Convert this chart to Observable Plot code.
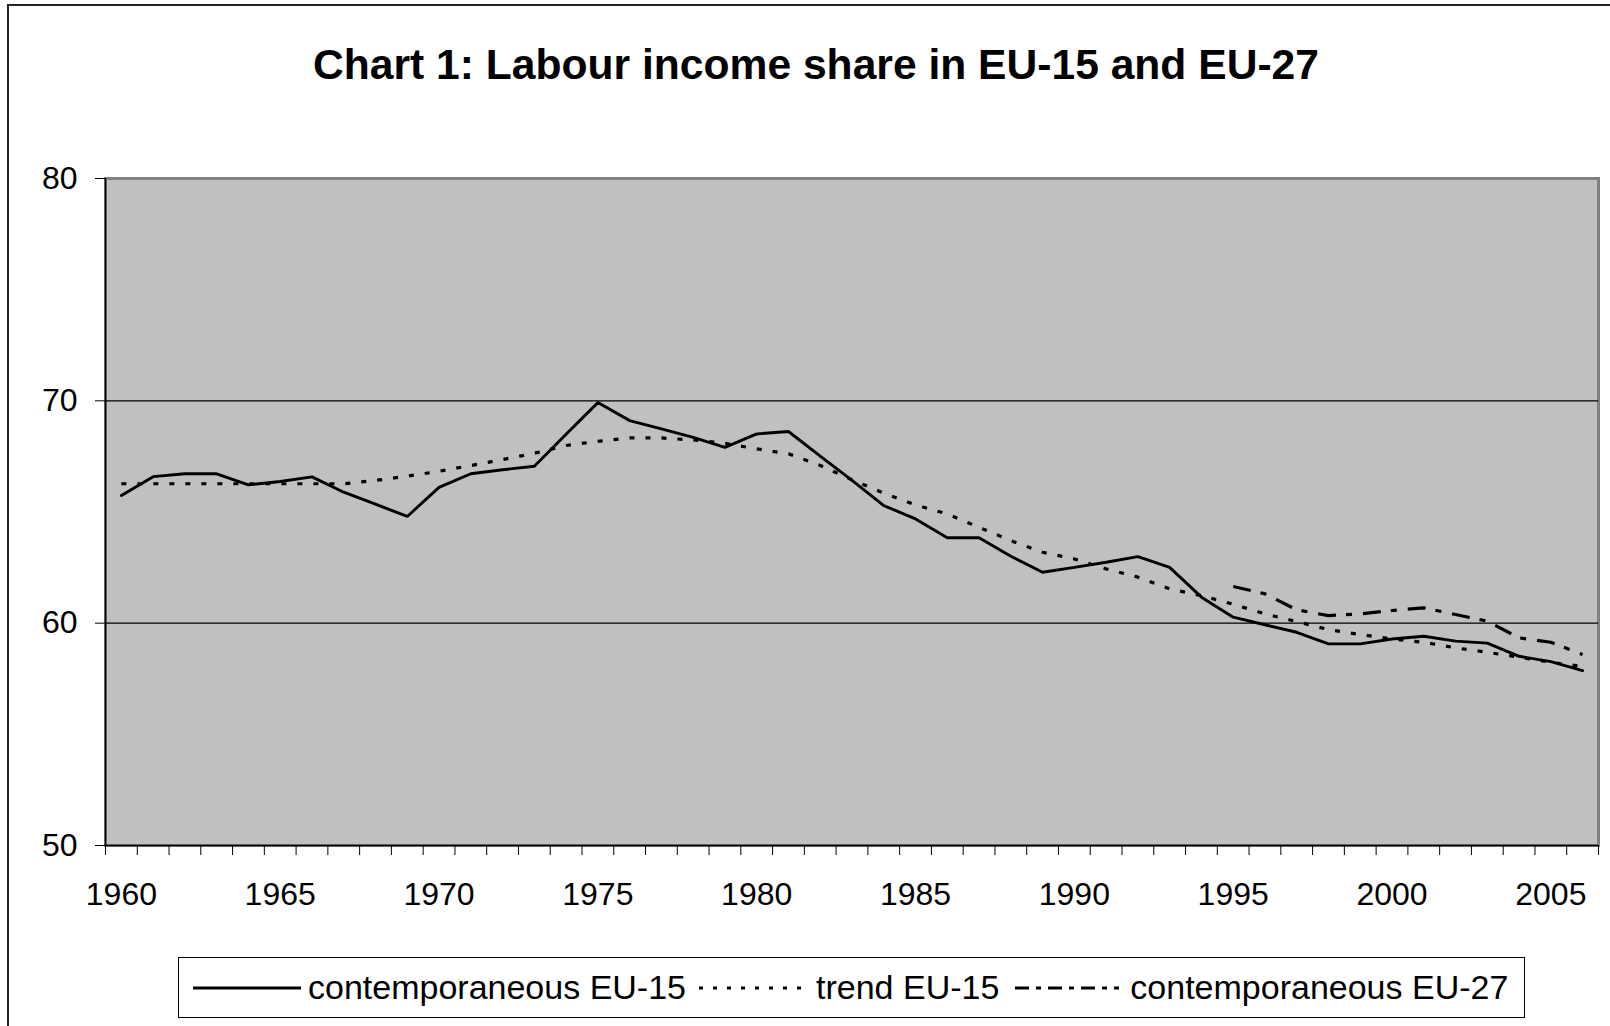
<!DOCTYPE html>
<html>
<head>
<meta charset="utf-8">
<script src="https://cdn.jsdelivr.net/npm/d3@7"></script>
<script src="https://cdn.jsdelivr.net/npm/@observablehq/plot@0.6"></script>
<style>
  html, body { margin: 0; padding: 0; background: #fff; }
  body { width: 1610px; height: 1026px; overflow: hidden; position: relative; font-family: "Liberation Sans", Arial, sans-serif; }
  #frame { position: absolute; left: 7px; top: 4px; width: 1640px; height: 1060px; border: 2px solid #222; box-sizing: border-box; }
  #title { position: absolute; top: 43px; left: 816px; transform: translateX(-50%); white-space: nowrap; font-weight: bold; font-size: 42.6px; line-height: 42px; color: #000; }
  #chart { position: absolute; left: 0; top: 150px; }
  #legend { position: absolute; left: 178px; top: 957px; width: 1347px; height: 61px; border: 1px solid #000; box-sizing: border-box; display: flex; align-items: center; font-size: 34px; color: #000; white-space: nowrap; }
  #legend svg { display: block; }
</style>
</head>
<body>
<div id="frame"></div>
<div id="title">Chart 1: Labour income share in EU-15 and EU-27</div>
<div id="chart"></div>
<div id="legend"></div>
<script>
const years = [1960,1961,1962,1963,1964,1965,1966,1967,1968,1969,1970,1971,1972,1973,1974,1975,1976,1977,1978,1979,1980,1981,1982,1983,1984,1985,1986,1987,1988,1989,1990,1991,1992,1993,1994,1995,1996,1997,1998,1999,2000,2001,2002,2003,2004,2005,2006];
const labelYears = [1960,1965,1970,1975,1980,1985,1990,1995,2000,2005];
const yTicks = [50,60,70,80];
const contemporaneousEU15 = [65.74,66.59,66.72,66.72,66.22,66.37,66.58,65.89,65.35,64.80,66.11,66.72,66.90,67.06,68.50,69.92,69.11,68.74,68.36,67.91,68.51,68.62,67.51,66.42,65.29,64.69,63.84,63.84,63.01,62.29,62.51,62.74,62.99,62.51,61.17,60.27,59.93,59.59,59.07,59.07,59.29,59.41,59.19,59.10,58.51,58.27,57.87];
const trendEU15 = [66.27,66.27,66.27,66.27,66.27,66.27,66.27,66.27,66.42,66.61,66.83,67.09,67.36,67.64,67.99,68.18,68.33,68.33,68.24,68.09,67.84,67.62,67.09,66.45,65.85,65.32,64.91,64.31,63.71,63.19,62.89,62.44,62.07,61.54,61.24,60.85,60.42,60.07,59.71,59.49,59.29,59.14,58.89,58.69,58.47,58.24,58.05];
const eu27Years = [1995,1996,1997,1998,1999,2000,2001,2002,2003,2004,2005,2006];
const contemporaneousEU27 = [61.65,61.32,60.60,60.34,60.42,60.57,60.69,60.39,60.09,59.34,59.14,58.59];
const seriesNames = ["contemporaneous EU-15", "trend EU-15", "contemporaneous EU-27"];

const s1 = years.map((yr, i) => ({year: yr, value: contemporaneousEU15[i]}));
const s2 = years.map((yr, i) => ({year: yr, value: trendEU15[i]}));
const s3 = eu27Years.map((yr, i) => ({year: yr, value: contemporaneousEU27[i]}));

// category boundaries (Excel-style ticks between categories)
const boundaries = years.map(y => y - 0.5).concat([years[years.length - 1] + 0.5]);
const xDomain = [boundaries[0], boundaries[boundaries.length - 1]];

const styles = {
  solid: {stroke: "#000", strokeWidth: 2.9},
  dotted: {stroke: "#000", strokeWidth: 3.2, strokeDasharray: "5,11"},
  dashdot: {stroke: "#000", strokeWidth: 3.2, strokeDasharray: "18,10,6,11"}
};

const chart = Plot.plot({
  width: 1610,
  height: 760,
  marginLeft: 105,
  marginRight: 12,
  marginTop: 28,
  marginBottom: 65,
  x: {type: "linear", domain: xDomain},
  y: {type: "linear", domain: [yTicks[0], yTicks[yTicks.length - 1]]},
  style: {fontFamily: "'Liberation Sans', Arial, sans-serif", fontSize: "32px", background: "transparent", overflow: "visible", color: "#000"},
  marks: [
    Plot.frame({fill: "#C0C0C0", stroke: "#808080", strokeWidth: 3}),
    Plot.ruleY([60, 70], {stroke: "#000", strokeWidth: 1.2}),
    Plot.ruleX([xDomain[0]], {stroke: "#000", strokeWidth: 1.5}),
    Plot.ruleY([yTicks[0]], {stroke: "#000", strokeWidth: 1.5}),
    Plot.axisY({ticks: yTicks, tickSize: 10, tickPadding: 18, tickFormat: d => String(d), label: null, stroke: "#000", fill: "#000"}),
    Plot.axisX({ticks: boundaries, tickSize: 10, tickFormat: () => "", label: null, stroke: "#000"}),
    Plot.axisX({ticks: labelYears, tickSize: 0, tickPadding: 37, tickFormat: d => String(d), label: null, fill: "#000"}),
    Plot.line(s2, {x: "year", y: "value", ...styles.dotted, strokeLinecap: "butt"}),
    Plot.line(s3, {x: "year", y: "value", ...styles.dashdot, strokeLinecap: "butt"}),
    Plot.line(s1, {x: "year", y: "value", ...styles.solid, strokeLinejoin: "miter"})
  ]
});
document.getElementById("chart").appendChild(chart);

// Legend
function sample(w, st) {
  const ns = "http://www.w3.org/2000/svg";
  const svg = document.createElementNS(ns, "svg");
  svg.setAttribute("width", w);
  svg.setAttribute("height", 10);
  const l = document.createElementNS(ns, "line");
  l.setAttribute("x1", 0); l.setAttribute("x2", w);
  l.setAttribute("y1", 5); l.setAttribute("y2", 5);
  l.setAttribute("stroke", "#000");
  l.setAttribute("stroke-width", st.w);
  if (st.dash) l.setAttribute("stroke-dasharray", st.dash);
  svg.appendChild(l);
  return svg;
}
const legend = document.getElementById("legend");
const legendSpec = [
  {name: seriesNames[0], w: 108, st: {w: 2.8}, padL: 14, gap: 7},
  {name: seriesNames[1], w: 103, st: {w: 3, dash: "4,10"}, padL: 13, gap: 14},
  {name: seriesNames[2], w: 104, st: {w: 3, dash: "14,7,5,7"}, padL: 16, gap: 11}
];
legendSpec.forEach(s => {
  const sv = sample(s.w, s.st);
  sv.style.marginLeft = s.padL + "px";
  legend.appendChild(sv);
  const t = document.createElement("span");
  t.textContent = s.name;
  t.style.marginLeft = s.gap + "px";
  legend.appendChild(t);
});
</script>
</body>
</html>
